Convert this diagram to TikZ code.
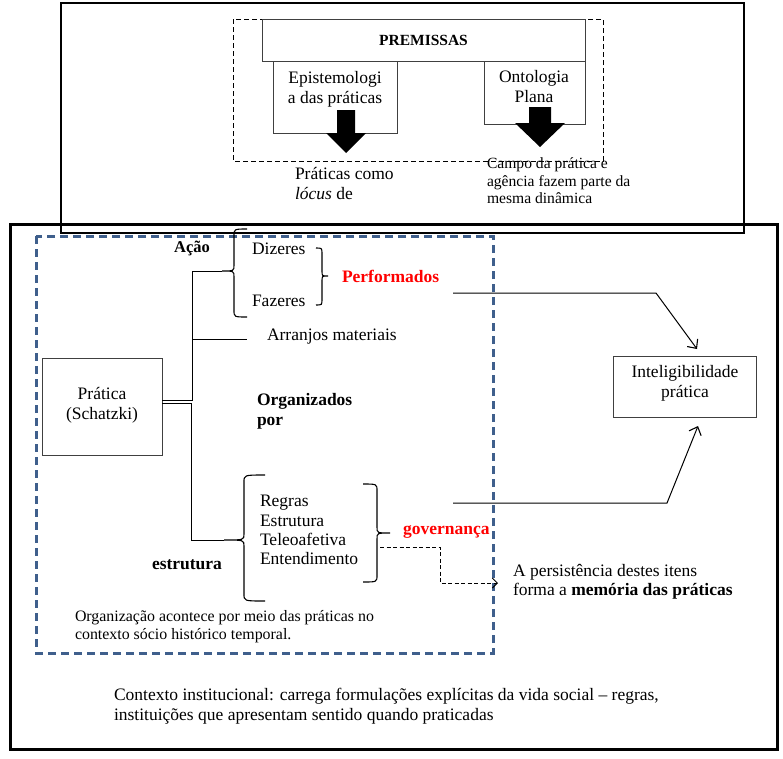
\documentclass[tikz,border=0pt]{standalone}
\usepackage{fontspec}
\setmainfont{Liberation Serif}
\usetikzlibrary{arrows.meta}
\definecolor{dblue}{HTML}{3F5F8C}
\definecolor{perfred}{HTML}{FF0000}
\newcommand{\lbr}[6]{% spine x, arm x, top y, tip y, bottom y, tip x
  \draw[brace] (#2,#3) .. controls (#1,#3) .. (#1,#3+7) -- (#1,#4-6) .. controls (#1,#4) .. (#6,#4) .. controls (#1,#4) .. (#1,#4+6) -- (#1,#5-7) .. controls (#1,#5) .. (#2,#5);}
\begin{document}
\begin{tikzpicture}[x=1pt,y=-1pt,
  txt/.style={inner sep=0pt, outer sep=0pt, align=left, font=\fontsize{17.5}{20}\selectfont},
  small/.style={inner sep=0pt, outer sep=0pt, align=left, font=\fontsize{15.6}{17.5}\selectfont},
  boxed/.style={draw=black!75, line width=0.9pt, inner sep=0pt, outer sep=0pt},
  conn/.style={line width=1pt, black},
  brace/.style={line width=1.1pt, black},
  barb/.style={-{Straight Barb[length=7pt,width=13pt,line width=1.1pt]}},
  blockarrow/.style={fill=black, draw=none}]
\useasboundingbox (0,0) rectangle (783,758);
\fill[white] (0,0) rectangle (783,758);

% ---------- top part ----------
\draw[line width=1.5pt] (61,3) rectangle (744,233);
\draw[line width=0.8pt, dash pattern=on 5pt off 3pt] (233,19) rectangle (603,161);
\node[boxed, anchor=north west, minimum width=323pt, minimum height=42pt,
      font=\bfseries\fontsize{15.5}{18}\selectfont] (prem) at (262,19) {PREMISSAS};
\node[boxed, anchor=north west, minimum width=124pt, minimum height=72pt] (epi) at (273,61) {};
\node[boxed, anchor=north west, minimum width=101pt, minimum height=63pt] (ont) at (484,61) {};
\node[txt, align=center] (epit) at (335,89) {Epistemologi\\a das práticas};
\node[txt, align=center] (ontt) at (534,86.5) {Ontologia\\Plana};
\fill[blockarrow] (337,110) -- (355,110) -- (355,133) -- (366,133) -- (346,153) -- (326,133) -- (337,133) -- cycle;
\fill[blockarrow] (529,107) -- (551,107) -- (551,123) -- (565,123) -- (540,147) -- (515,123) -- (529,123) -- cycle;
\node[txt, anchor=west] (locus) at (295,184) {Práticas como\\\textit{lócus} de};
\node[small, anchor=west] (campo) at (487,181) {Campo da prática e\\agência fazem parte da\\mesma dinâmica};

% ---------- bottom part ----------
\draw[line width=3pt] (10,224) rectangle (777,749);
\draw[dblue, line width=3pt, dash pattern=on 8pt off 5pt] (36,236) rectangle (493,653);

\node[boxed, anchor=north west, minimum width=120pt, minimum height=97pt] (prat) at (42,358) {};
\node[txt, align=center] (pratt) at (102,405.5) {Prática\\(Schatzki)};

\node[txt, font=\bfseries\fontsize{16.5}{20}\selectfont] (acao) at (192,248) {Ação};
\node[txt, anchor=west] (diz) at (252,249) {Dizeres};
\node[txt, anchor=west] (faz) at (252,301) {Fazeres};
\node[txt, anchor=west, text=perfred, font=\bfseries\fontsize{17.5}{20}\selectfont] (perf) at (342,276) {Performados};
\node[txt, anchor=west] (arr) at (267,337) {Arranjos materiais};
\node[txt, anchor=west, font=\bfseries\fontsize{17.5}{19.5}\selectfont] (org) at (257,411.5) {Organizados\\por};
\node[txt, anchor=west, font=\fontsize{17.5}{19.3}\selectfont] (regras) at (260,530) {Regras\\Estrutura\\Teleoafetiva\\Entendimento};
\node[txt, anchor=west, text=perfred, font=\bfseries\fontsize{17.5}{20}\selectfont] (gov) at (403,532) {governança};
\node[txt, anchor=west, font=\bfseries\fontsize{17.5}{20}\selectfont] (estr) at (152,565) {estrutura};
\node[txt, anchor=west, font=\fontsize{15.9}{18}\selectfont] (orgac) at (75,627) {Organização acontece por meio das práticas no\\contexto sócio histórico temporal.};
\node[txt, anchor=west, font=\fontsize{17.5}{19}\selectfont] (pers) at (513,581.5) {A persistência destes itens\\forma a \textbf{memória das práticas}};
\node[boxed, anchor=north west, minimum width=143pt, minimum height=61pt] (intel) at (613,356) {};
\node[txt, align=center] (intelt) at (685,383) {Inteligibilidade\\prática};
\node[txt, anchor=west] (ctx) at (114,706.5) {Contexto institucional: carrega formulações explícitas da vida social – regras,\\instituições que apresentam sentido quando praticadas};

% ---------- connectors ----------
\coordinate (upTip) at (222,271);
\coordinate (loTip) at (224,540);
\draw[conn] ([yshift=6.5pt]prat.east) -- (192,400) -- (192,271) -- (upTip);
\draw[conn] (192,339) -- (247,339);
\draw[conn] ([yshift=3.5pt]prat.east) -- (191,403) -- (191,540) -- (loTip);
\lbr{234}{247}{229}{271}{317}{222}
\draw[brace] (316,248) .. controls (322,248) .. (322,254) -- (322,271) .. controls (322,276) .. (328,276) .. controls (322,276) .. (322,281) -- (322,299) .. controls (322,305) .. (316,305);
\lbr{244}{265}{475}{540}{601}{224}
\draw[brace] (363,484) .. controls (377,484) .. (377,491) -- (377,527) .. controls (377,533) .. (390,533) .. controls (377,533) .. (377,539) -- (377,575) .. controls (377,582) .. (363,582);

\coordinate (perfEnd) at (453,293);
\coordinate (perfBend) at (656,293);
\coordinate (intelTop) at (697,349);
\draw[conn, barb] (perfEnd) -- (perfBend) -- (intelTop);
\coordinate (govEnd) at (453,503);
\coordinate (govBend) at (667,503);
\coordinate (intelBot) at (698,426);
\draw[conn, barb] (govEnd) -- (govBend) -- (intelBot);
\coordinate (dStart) at (380,547);
\coordinate (dEnd) at (498,583);
\draw[line width=1pt, dash pattern=on 4pt off 2.5pt, -{Straight Barb[length=5pt,width=10pt,line width=1pt]}] (dStart) -- (440,547) -- (440,583) -- (dEnd);
\end{tikzpicture}
\end{document}
